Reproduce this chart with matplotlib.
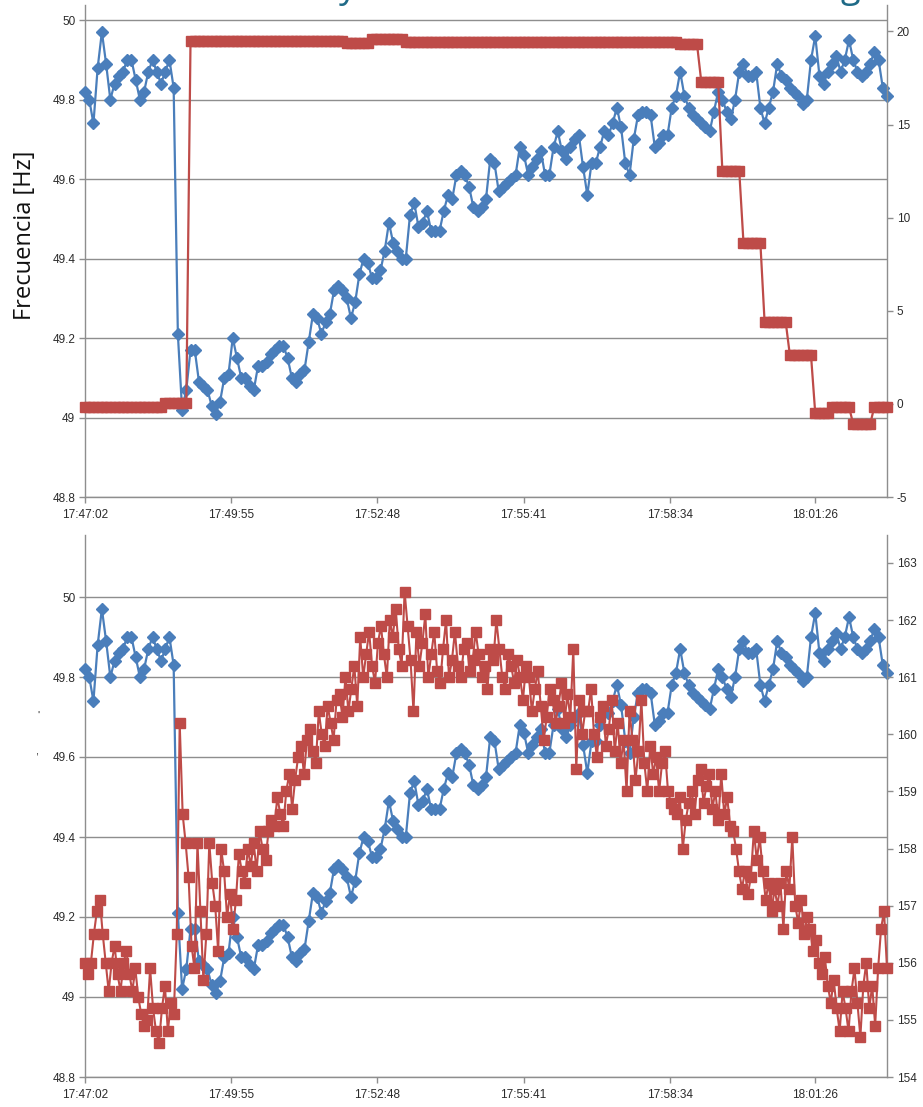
import numpy as np
import matplotlib
matplotlib.use("Agg")
import matplotlib.pyplot as plt

BLUE = "#4A7EBB"
RED = "#BE4B48"
GRID = "#8E8E8E"
TXT = "#2B2B2B"
TITLE = "#1F6A87"

W, H = 923, 1107

# time axis (seconds from 17:47:02)
t_end = 949
tick_pos = [0, 173, 346, 519, 692, 864]
tick_labels = ["17:47:02", "17:49:55", "17:52:48", "17:55:41", "17:58:34", "18:01:26"]

# frequency [Hz] (blue, both panels)
freq = [
    49.82, 49.80, 49.74, 49.88, 49.97, 49.89, 49.80, 49.84, 49.86, 49.87,
    49.90, 49.90, 49.85, 49.80, 49.82, 49.87, 49.90, 49.87, 49.84, 49.87,
    49.90, 49.83,
    49.21, 49.02, 49.07, 49.17, 49.17, 49.09, 49.08, 49.07, 49.03, 49.01,
    49.04, 49.10, 49.11, 49.20, 49.15, 49.10, 49.10, 49.08, 49.07, 49.13,
    49.13, 49.14, 49.16, 49.17, 49.18, 49.18, 49.15, 49.10, 49.09, 49.11,
    49.12, 49.19, 49.26, 49.25, 49.21, 49.24, 49.26, 49.32, 49.33, 49.32,
    49.30, 49.25, 49.29, 49.36, 49.40, 49.39, 49.35, 49.35, 49.37, 49.42,
    49.49, 49.44, 49.42, 49.40, 49.40, 49.51, 49.54, 49.48, 49.49, 49.52,
    49.47, 49.47, 49.47, 49.52, 49.56, 49.55, 49.61, 49.62, 49.61, 49.58,
    49.53, 49.52, 49.53, 49.55, 49.65, 49.64,
    49.57, 49.58, 49.59, 49.60, 49.61, 49.68, 49.66, 49.61, 49.63, 49.65,
    49.67, 49.61, 49.61, 49.68, 49.72, 49.67, 49.65, 49.68, 49.70, 49.71,
    49.63, 49.56, 49.64, 49.64, 49.68, 49.72, 49.71, 49.74, 49.78, 49.73,
    49.64, 49.61, 49.70, 49.76, 49.77, 49.77, 49.76, 49.68, 49.69, 49.71,
    49.71, 49.78, 49.81, 49.87, 49.81, 49.78, 49.76, 49.75, 49.74, 49.73,
    49.72, 49.77, 49.82, 49.80, 49.77, 49.75, 49.80, 49.87, 49.89, 49.86,
    49.86, 49.87, 49.78, 49.74, 49.78, 49.82, 49.89, 49.86, 49.85, 49.83,
    49.82, 49.81, 49.79, 49.80, 49.90, 49.96, 49.86, 49.84, 49.87, 49.89,
    49.91, 49.87, 49.90, 49.95, 49.90, 49.87, 49.86, 49.87, 49.89, 49.92,
    49.90, 49.83, 49.81,
]

# top panel red series: step levels and how many samples each lasts
red_top_levels = [-0.15, 0.05, 19.5, 19.4, 19.6, 19.45, 19.3, 17.3, 12.5,
                  8.65, 4.4, 2.6, -0.5, -0.15, -1.1, -0.15]
red_top_counts = [19, 6, 37, 6, 8, 65, 5, 5, 5, 5, 6, 6, 4, 5, 5, 4]

# bottom panel red series (right axis)
red_bottom = [
    156.0, 155.8, 156.0, 156.5, 156.9, 157.1, 156.5, 156.0,
    155.5, 156.0, 156.3, 155.8, 155.5, 156.0, 156.2, 155.8, 155.5, 155.9,
    155.4, 155.1, 154.9, 155.0, 155.9, 155.2, 154.8, 154.6, 155.2, 155.6,
    154.8, 155.3, 155.1,
    156.5, 160.2, 158.6,
    158.1, 157.5, 156.3, 155.9, 158.1, 156.9, 155.7, 156.5, 158.1, 157.4,
    157.0, 156.2, 158.0, 157.6, 156.8, 157.2, 156.6,
    157.1, 157.9, 157.6, 157.4, 158.0, 157.7, 158.1, 157.6, 158.3, 158.0,
    157.8, 158.3, 158.5, 158.4, 158.9, 158.6, 158.4, 159.0, 159.3, 158.7,
    159.2, 159.6,
    159.8, 159.3, 159.9, 160.1, 159.7, 159.5, 160.4, 160.0, 159.8, 160.5,
    160.2, 159.9, 160.6,
    160.7, 160.3, 161.0, 160.4, 160.8, 161.2, 160.5, 161.7, 161.0, 161.4,
    161.8, 161.2, 160.9, 161.6, 161.9, 161.4, 161.0, 162.0, 161.7, 162.2,
    161.5, 161.2, 162.5, 161.9, 161.3, 160.4, 161.8,
    161.2, 161.6, 162.1, 161.0, 161.4, 161.8, 161.1, 160.9, 161.5, 162.0,
    161.0, 161.3, 161.8, 161.2, 161.0, 161.5, 161.6, 161.1, 161.3, 161.8,
    161.4, 161.0, 161.2, 160.8, 161.5,
    161.3, 162.0, 161.5, 161.0, 160.8, 161.4, 161.2, 160.9, 161.3, 161.0,
    160.6, 161.2, 161.0, 160.4, 160.8, 161.1, 160.5, 159.9, 160.3, 160.8,
    160.6, 160.2,
    160.5, 160.9, 160.2, 160.7, 160.3, 161.5, 159.4, 160.6, 160.0, 160.4,
    160.4, 160.8, 160.0, 159.6, 160.3, 160.5, 159.8, 160.1, 160.6, 159.7,
    160.2, 159.5, 159.9,
    159.0, 160.4, 159.9, 159.2, 159.7, 160.6, 159.5, 159.0, 159.8, 159.3,
    159.6, 159.0, 159.5, 159.7, 159.0, 158.8, 158.7,
    158.6, 158.9, 158.0, 158.5, 158.8, 159.0, 158.6,
    159.2, 159.4, 158.8, 159.1, 159.3, 158.7, 159.0, 158.5, 159.3, 158.6,
    158.9, 158.4,
    158.3, 158.0, 157.6, 157.3, 157.6, 157.2, 157.5,
    158.3, 157.8, 158.2, 157.6, 157.1, 157.4, 156.9, 157.3, 157.0, 157.4,
    156.6, 157.6,
    157.3, 158.2, 157.0, 156.7, 157.1, 156.5, 156.8,
    156.6, 156.2, 156.4, 156.0, 155.8, 156.1, 155.6, 155.3, 155.7, 155.2,
    154.8, 155.5,
    155.2, 154.8, 155.5, 155.9, 155.3, 154.7, 155.6, 156.0, 155.2, 155.6,
    154.9,
    155.9, 156.6, 156.9, 155.9,
]

left_ticks = [48.8, 49.0, 49.2, 49.4, 49.6, 49.8, 50.0]
top_right_ticks = [-5, 0, 5, 10, 15, 20]
bottom_right_ticks = [154, 155, 156, 157, 158, 159, 160, 161, 162, 163]

plt.rcParams.update({
    "font.family": ["Liberation Sans Narrow", "Liberation Sans", "DejaVu Sans"],
    "axes.linewidth": 1.0,
})

fig = plt.figure(figsize=(W / 100, H / 100), dpi=100, facecolor="white")


def px_axes(left, top, right, bottom):
    return fig.add_axes([left / W, 1 - bottom / H, (right - left) / W, (bottom - top) / H])


def style(ax, ax2, ylim, ylim2, rticks):
    ax.set_xlim(0, t_end)
    ax.set_ylim(*ylim)
    ax.set_yticks(left_ticks)
    ax.set_yticklabels([f"{v:g}" for v in left_ticks])
    ax.set_xticks(tick_pos)
    ax.set_xticklabels(tick_labels)
    ax.yaxis.grid(True, color=GRID, linewidth=1.0)
    ax.set_axisbelow(True)
    ax2.set_ylim(*ylim2)
    ax2.set_yticks(rticks)
    ax2.set_yticklabels([f"{v:g}" for v in rticks])
    for a in (ax, ax2):
        a.tick_params(colors=GRID, labelcolor=TXT, labelsize=8.5, length=4,
                      width=1.0, direction="out", pad=3)
        for s in a.spines.values():
            s.set_visible(False)
    ax.spines["left"].set_visible(True)
    ax.spines["bottom"].set_visible(True)
    ax2.spines["right"].set_visible(True)
    for s in (ax.spines["left"], ax.spines["bottom"], ax2.spines["right"]):
        s.set_color(GRID)
    ax.tick_params(axis="x", pad=5)


x_freq = np.linspace(0, t_end, len(freq))
red_top = np.repeat(red_top_levels, red_top_counts)
x_top = np.linspace(0, t_end, len(red_top))
x_bot = np.linspace(0, t_end, len(red_bottom))

# top panel
a1 = px_axes(85, 5, 887, 497)
a1.plot(x_freq, freq, color=BLUE, lw=1.6, marker="D", ms=6,
        mfc=BLUE, mec=BLUE, clip_on=False, zorder=3)
b1 = a1.twinx()
b1.plot(x_top, red_top, color=RED, lw=1.6, marker="s", ms=7,
        mfc=RED, mec=RED, clip_on=False, zorder=3)
style(a1, b1, (48.8, 50.038), (-5, 21.42), top_right_ticks)

# bottom panel
a2 = px_axes(85, 535, 887, 1077)
a2.plot(x_freq, freq, color=BLUE, lw=1.6, marker="D", ms=6,
        mfc=BLUE, mec=BLUE, clip_on=False, zorder=3)
b2 = a2.twinx()
b2.plot(x_bot, red_bottom, color=RED, lw=1.5, marker="s", ms=7,
        mfc=RED, mec=RED, clip_on=False, zorder=3)
style(a2, b2, (48.8, 50.155), (154, 163.49), bottom_right_ticks)

fig.text(25 / W, 1 - 235 / H, "Frecuencia [Hz]", rotation=90, ha="center",
         va="center", fontsize=17, color="#111111", family="Open Sans")

# fragments of the cropped title at the very top
fig.text(348 / W, 1 + 3 / H, "y", fontsize=26, color=TITLE, ha="center",
         va="baseline", family="Open Sans")
fig.text(850 / W, 1 + 3 / H, "g", fontsize=26, color=TITLE, ha="center",
         va="baseline", family="Open Sans")

# fragments of a cropped label on the lower panel
fig.text(38 / W, 1 - 716 / H, "'", fontsize=8, color=TXT, ha="center", va="center")
fig.text(37 / W, 1 - 752 / H, ",", fontsize=8, color=TXT, ha="center", va="center")

fig.savefig("out.png", dpi=100, facecolor="white")
